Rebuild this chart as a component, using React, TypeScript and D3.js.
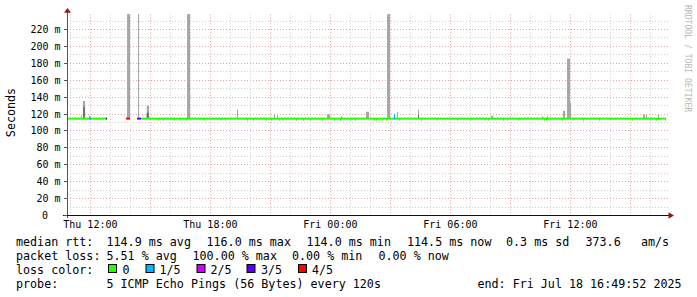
import React from "react";
import * as d3 from "d3";

// ---------- data ----------
const timeDomain = ["Thu 10:49:52", "Fri 16:49:52"];
const xTickTimes = ["Thu 12:00", "Thu 18:00", "Fri 00:00", "Fri 06:00", "Fri 12:00"];
const xTickLabels = ["Thu 12:00", "Thu 18:00", "Fri 00:00", "Fri 06:00", "Fri 12:00"];
const yTickValues = [0, 20, 40, 60, 80, 100, 120, 140, 160, 180, 200, 220];
const yTickLabels = ["0", "20 m", "40 m", "60 m", "80 m", "100 m", "120 m", "140 m", "160 m", "180 m", "200 m", "220 m"];
const yMax = 237.5;

const lossLabels = ["0", "1/5", "2/5", "3/5", "4/5"];

// median rtt segments (ms) and their loss level (-1 = unknown)
const segStart = ["Thu 10:50", "Thu 12:47", "Thu 13:47", "Thu 14:20", "Thu 14:32"];
const segEnd = ["Thu 12:47", "Thu 12:50", "Thu 13:59", "Thu 14:32", "Fri 16:47"];
const segRtt = [114.0, 114.0, 114.0, 114.0, 114.0];
const segLoss = [0, -1, 4, 3, 0];

// short samples with packet loss
const spotStart = ["Thu 11:56", "Fri 03:11"];
const spotEnd = ["Thu 12:02", "Fri 03:14"];
const spotRtt = [114.0, 118.5];
const spotLoss = [1, 1];

// samples where the median dipped slightly
const dipTimes = [
  "Thu 15:23", "Thu 15:38", "Thu 16:11", "Thu 16:29", "Thu 16:47", "Thu 17:41", "Thu 18:32", "Thu 18:44",
  "Thu 19:50", "Thu 20:08", "Thu 20:47", "Thu 21:02", "Thu 21:26", "Thu 21:35", "Thu 22:17", "Thu 22:38",
  "Thu 22:59", "Thu 23:35", "Fri 00:11", "Fri 00:29", "Fri 00:59", "Fri 01:14", "Fri 02:11", "Fri 02:17",
  "Fri 02:35", "Fri 02:47", "Fri 03:26", "Fri 04:32", "Fri 05:20", "Fri 06:20", "Fri 06:59", "Fri 07:44",
  "Fri 07:53", "Fri 08:38", "Fri 08:50", "Fri 09:23", "Fri 10:41", "Fri 10:47", "Fri 11:35", "Fri 12:08",
  "Fri 12:38", "Fri 13:26", "Fri 15:05", "Fri 15:59", "Fri 16:17", "Fri 16:44",
];
const dipRtt = 112.8;

// smoke (max ping) spikes
const smokeStart = [
  "Thu 11:32", "Thu 11:38", "Thu 11:56", "Thu 13:50", "Thu 14:23", "Thu 14:49", "Thu 16:50", "Thu 19:20",
  "Thu 21:11", "Thu 21:20", "Thu 23:50", "Fri 00:32", "Fri 01:47", "Fri 02:50", "Fri 03:20", "Fri 04:23",
  "Fri 08:02", "Fri 10:35", "Fri 10:50", "Fri 11:38", "Fri 11:50", "Fri 11:59", "Fri 15:38", "Fri 15:47", "Fri 16:23",
];
const smokeEnd = [
  "Thu 11:35", "Thu 11:44", "Thu 11:59", "Thu 13:59", "Thu 14:26", "Thu 14:56", "Thu 16:59", "Thu 19:23",
  "Thu 21:14", "Thu 21:23", "Thu 23:59", "Fri 00:35", "Fri 01:56", "Fri 02:59", "Fri 03:23", "Fri 04:26",
  "Fri 08:08", "Fri 10:38", "Fri 10:53", "Fri 11:44", "Fri 11:59", "Fri 12:02", "Fri 15:44", "Fri 15:50", "Fri 16:26",
];
const smokeMax = [
  117.8, 135, 117.8, 237.5, 237.5, 129.4, 237.5, 124.8,
  119, 117.5, 119, 117, 122.2, 237.5, 122, 124.8,
  117.5, 116.8, 116.8, 123.4, 184.9, 132.7, 118.5, 118.5, 118.5,
];
const smokeDense = [
  0, 128, 0, 0, 0, 121, 0, 0,
  0, 0, 0, 0, 0, 0, 0, 119,
  0, 0, 0, 0, 0, 0, 0, 0, 0,
];

const legendRtt = ["median rtt:", "114.9 ms avg", "116.0 ms max", "114.0 ms min", "114.5 ms now", "0.3 ms sd", "373.6", "am/s"];
const legendLoss = ["packet loss:", "5.51 % avg", "100.00 % max", "0.00 % min", "0.00 % now"];
const legendProbe = ["probe:", "5 ICMP Echo Pings (56 Bytes) every 120s", "end: Fri Jul 18 16:49:52 2025"];

// ---------- helpers / styles ----------
const parse = (s: string) => {
  const [day, hm] = s.split(" ");
  const [h, m, sec] = hm.split(":").map(Number);
  return new Date(2025, 6, day === "Thu" ? 17 : 18, h, m, sec || 0);
};

const lossColors = ["#26ff00", "#00b8ff", "#cc00ff", "#5500ff", "#ff0000"];
const MONO = "'DejaVu Sans Mono', monospace";
const MAJOR = "#e0a6a6";
const MINOR = "#cdcdcd";

export default function App() {
  const x = d3.scaleTime().domain(timeDomain.map(parse)).range([67, 667]);
  const y = d3.scaleLinear().domain([0, 220]).range([215, 29]);
  const top = y(yMax);

  const t0 = parse(timeDomain[0]);
  const t1 = parse(timeDomain[1]);
  const hours = d3.timeHour.range(new Date(t0.getTime() + 1), t1);
  const minorY = d3.range(10, yMax, 10);

  const grid: JSX.Element[] = [];
  minorY.forEach((v) => {
    const major = v % 20 === 0;
    grid.push(
      <line key={"h" + v} x1={67} x2={668} y1={Math.round(y(v)) + 0.5} y2={Math.round(y(v)) + 0.5}
        stroke={major ? MAJOR : MINOR} strokeDasharray="1,2" />
    );
  });
  hours.forEach((h) => {
    const major = h.getHours() % 3 === 0;
    const xx = Math.round(x(h)) + 0.5;
    grid.push(
      <line key={"v" + h.getTime()} x1={xx} x2={xx} y1={top} y2={215}
        stroke={major ? MAJOR : MINOR} strokeDasharray="1,2" />
    );
  });

  const base = y(segRtt[0]);

  return (
    <svg width={697} height={297} style={{ position: "absolute", left: 0, top: 0, background: "#fff" }}>
      <rect width={697} height={297} fill="#fff" />
      {grid}

      {/* smoke */}
      {smokeStart.map((s, i) => {
        const xa = x(parse(s));
        const xb = x(parse(smokeEnd[i]));
        return (
          <g key={"s" + i}>
            <rect x={xa} width={Math.max(1, xb - xa)} y={y(smokeMax[i])} height={base - y(smokeMax[i])} fill="#a6a6a6" />
            {smokeDense[i] > 0 && (
              <rect x={xa} width={Math.max(1, xb - xa)} y={y(smokeDense[i])} height={base - y(smokeDense[i])} fill="#707070" />
            )}
          </g>
        );
      })}

      {/* median line */}
      {segStart.map((s, i) => {
        const xa = x(parse(s));
        const xb = x(parse(segEnd[i]));
        return (
          <rect key={"m" + i} x={xa} width={xb - xa} y={y(segRtt[i]) - 1} height={2}
            fill={segLoss[i] < 0 ? "#222" : lossColors[segLoss[i]]} />
        );
      })}
      {dipTimes.map((s, i) => {
        const xa = x(parse(s));
        return <rect key={"d" + i} x={xa} width={1} y={y(dipRtt) - 1} height={2} fill={lossColors[0]} />;
      })}
      {spotStart.map((s, i) => {
        const xa = x(parse(s));
        const xb = x(parse(spotEnd[i]));
        return (
          <rect key={"p" + i} x={xa} width={Math.max(1, xb - xa)} y={y(spotRtt[i]) - 1}
            height={y(segRtt[0]) - y(spotRtt[i]) + 2} fill={lossColors[spotLoss[i]]} />
        );
      })}

      {/* axes */}
      <line x1={67.5} x2={67.5} y1={11} y2={218} stroke="#555" />
      <line x1={63} x2={669} y1={215.5} y2={215.5} stroke="#111" />
      <path d="M64,12.7 L67.5,8 L71,12.7 Z" fill="#8b1a1a" />
      <path d="M668.5,212.3 L674,215.5 L668.5,218.7 Z" fill="#8b1a1a" />
      {yTickValues.map((v) => (
        <line key={"yt" + v} x1={64} x2={67} y1={Math.round(y(v)) + 0.5} y2={Math.round(y(v)) + 0.5} stroke="#555" />
      ))}

      {/* y labels */}
      {yTickValues.map((v, i) => (
        <text key={"yl" + v} x={i === 0 ? 48 : 60.5} y={y(v) + 4} textAnchor="end" fontFamily={MONO} fontSize={10} fill="#000">
          {yTickLabels[i]}
        </text>
      ))}
      {/* x labels */}
      {xTickTimes.map((t, i) => (
        <text key={"xl" + i} x={x(parse(t))} y={228.3} textAnchor="middle" fontFamily={MONO} fontSize={10} fill="#000">
          {xTickLabels[i]}
        </text>
      ))}

      <text transform="translate(14.5,112.5) rotate(-90)" textAnchor="middle" fontFamily={MONO} fontSize={11.7} fill="#000">
        Seconds
      </text>
      <text transform="translate(684.5,5) rotate(90)" fontFamily={MONO} fontSize={8.1} fill="#b8b8b8">
        RRDTOOL / TOBI OETIKER
      </text>

      {/* legend */}
      <g fontFamily={MONO} fontSize={11.7} fill="#000">
        {legendRtt.map((s, i) => (
          <text key={"r" + i} x={[16, 106.5, 206.5, 306.5, 407, 506, 585.5, 641][i]} y={245.8} style={{ whiteSpace: "pre" }}>{s}</text>
        ))}
        {legendLoss.map((s, i) => (
          <text key={"l" + i} x={[16, 106.5, 192.5, 292, 378.5][i]} y={259.7} style={{ whiteSpace: "pre" }}>{s}</text>
        ))}
        <text x={16} y={273.6}>loss color:</text>
        {lossLabels.map((s, i) => {
          const bx = [108.5, 146, 197, 247, 298.5][i];
          const tx = [122.5, 159.5, 210.5, 261, 312][i];
          return (
            <g key={"lc" + i}>
              <rect x={bx} y={264.5} width={8} height={8} fill={lossColors[i]} stroke="#000" />
              <text x={tx} y={273.6}>{s}</text>
            </g>
          );
        })}
        {legendProbe.map((s, i) => (
          <text key={"pr" + i} x={[16, 106.5, 477.5][i]} y={287.5} style={{ whiteSpace: "pre" }}>{s}</text>
        ))}
      </g>
    </svg>
  );
}
